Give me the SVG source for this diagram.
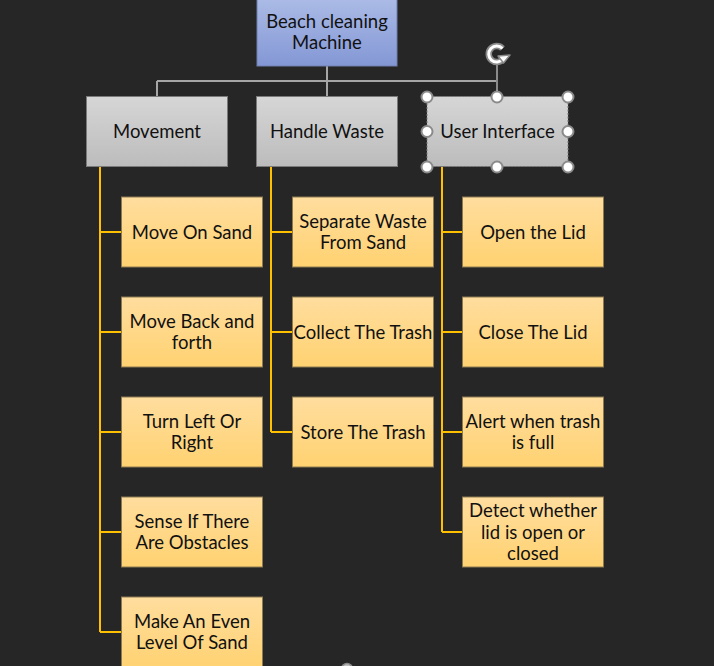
<svg xmlns="http://www.w3.org/2000/svg" width="714" height="666" viewBox="0 0 714 666">
<defs>
<linearGradient id="gBlue" x1="0" y1="0" x2="0" y2="1"><stop offset="0" stop-color="#abbbe6"/><stop offset="1" stop-color="#8397d5"/></linearGradient>
<linearGradient id="gGray" x1="0" y1="0" x2="0" y2="1"><stop offset="0" stop-color="#d6d6d6"/><stop offset="1" stop-color="#bcbcbc"/></linearGradient>
<linearGradient id="gOrange" x1="0" y1="0" x2="0" y2="1"><stop offset="0" stop-color="#ffdd9e"/><stop offset="1" stop-color="#ffd271"/></linearGradient>
<style>
text{font-family:Lato,"Liberation Sans",sans-serif;font-size:18.5px;fill:#111;text-anchor:middle}
.root{fill:url(#gBlue);stroke:#6f7fae;stroke-width:1}
.l1{fill:url(#gGray);stroke:#7a7a7a;stroke-width:1}
.l2{fill:url(#gOrange);stroke:#8c7a50;stroke-width:1}
.gl{stroke:#a6a6a6;stroke-width:2;fill:none}
.ol{stroke:#ffc000;stroke-width:2;fill:none}
.h{fill:#fff;stroke:#8a8a8a;stroke-width:2}
</style>
</defs>
<rect width="714" height="666" fill="#262626"/>
<g id="connectors">
<path class="gl" d="M327 66V96M157 81H497V96M157 81V96"/>
<path class="ol" d="M100 167V632M100 232H121M100 332H121M100 432H121M100 532H121M100 632H121"/>
<path class="ol" d="M271 167V432M271 232H292M271 332H292M271 432H292"/>
<path class="ol" d="M442 167V532M442 232H462M442 332H462M442 432H462M442 532H462"/>
</g>
<g id="root"><rect class="root" x="257" y="-1" width="140" height="67"/><text x="327" y="28">Beach cleaning</text><text x="327" y="49">Machine</text></g>
<g id="movement"><rect class="l1" x="86.5" y="96.5" width="141" height="70"/><text x="157" y="138">Movement</text></g>
<g id="handle-waste"><rect class="l1" x="256.5" y="96.5" width="141" height="70"/><text x="327" y="138">Handle Waste</text></g>
<g id="user-interface"><rect class="l1" x="427" y="96.5" width="141" height="70" stroke-dasharray="2 1.5"/><text x="497.5" y="138">User Interface</text></g>
<g id="move-on-sand"><rect class="l2" x="121.5" y="197" width="141" height="70"/><text x="192" y="239">Move On Sand</text></g>
<g id="move-back"><rect class="l2" x="121.5" y="297" width="141" height="70"/><text x="192" y="328">Move Back and</text><text x="192" y="349">forth</text></g>
<g id="turn"><rect class="l2" x="121.5" y="397" width="141" height="70"/><text x="192" y="428">Turn Left Or</text><text x="192" y="449">Right</text></g>
<g id="sense"><rect class="l2" x="121.5" y="497" width="141" height="70"/><text x="192" y="528">Sense If There</text><text x="192" y="549">Are Obstacles</text></g>
<g id="level"><rect class="l2" x="121.5" y="597" width="141" height="72"/><text x="192" y="628">Make An Even</text><text x="192" y="649">Level Of Sand</text></g>
<g id="separate"><rect class="l2" x="292.5" y="197" width="141" height="70"/><text x="363" y="228">Separate Waste</text><text x="363" y="249">From Sand</text></g>
<g id="collect"><rect class="l2" x="292.5" y="297" width="141" height="70"/><text x="363" y="339">Collect The Trash</text></g>
<g id="store"><rect class="l2" x="292.5" y="397" width="141" height="70"/><text x="363" y="439">Store The Trash</text></g>
<g id="open"><rect class="l2" x="462.5" y="197" width="141" height="70"/><text x="533" y="239">Open the Lid</text></g>
<g id="close"><rect class="l2" x="462.5" y="297" width="141" height="70"/><text x="533" y="339">Close The Lid</text></g>
<g id="alert"><rect class="l2" x="462.5" y="397" width="141" height="70"/><text x="533" y="428">Alert when trash</text><text x="533" y="449">is full</text></g>
<g id="detect"><rect class="l2" x="462.5" y="497" width="141" height="70"/><text x="533" y="517">Detect whether</text><text x="533" y="539">lid is open or</text><text x="533" y="560">closed</text></g>
<g id="selection">
<path d="M497 64V90" stroke="#8a8a8a" stroke-width="2"/>
<path d="M502.5 48.5A8 8 0 1 0 503 59" fill="none" stroke="#8a8a8a" stroke-width="6.5"/>
<path d="M502.5 48.5A8 8 0 1 0 503 59" fill="none" stroke="#fff" stroke-width="3"/>
<path d="M498 56L510 55L503.5 63Z" fill="#fff" stroke="#8a8a8a" stroke-width="1.5" stroke-linejoin="round"/>
<circle class="h" cx="427" cy="97" r="5.5"/><circle class="h" cx="497" cy="97" r="5.5"/><circle class="h" cx="568" cy="97" r="5.5"/>
<circle class="h" cx="427" cy="131.5" r="5.5"/><circle class="h" cx="568" cy="131.5" r="5.5"/>
<circle class="h" cx="427" cy="167" r="5.5"/><circle class="h" cx="497" cy="167" r="5.5"/><circle class="h" cx="568" cy="167" r="5.5"/>
<circle cx="347" cy="669" r="5.5" fill="#bdbdbd" stroke="#8a8a8a" stroke-width="1.5"/>
</g>
</svg>
